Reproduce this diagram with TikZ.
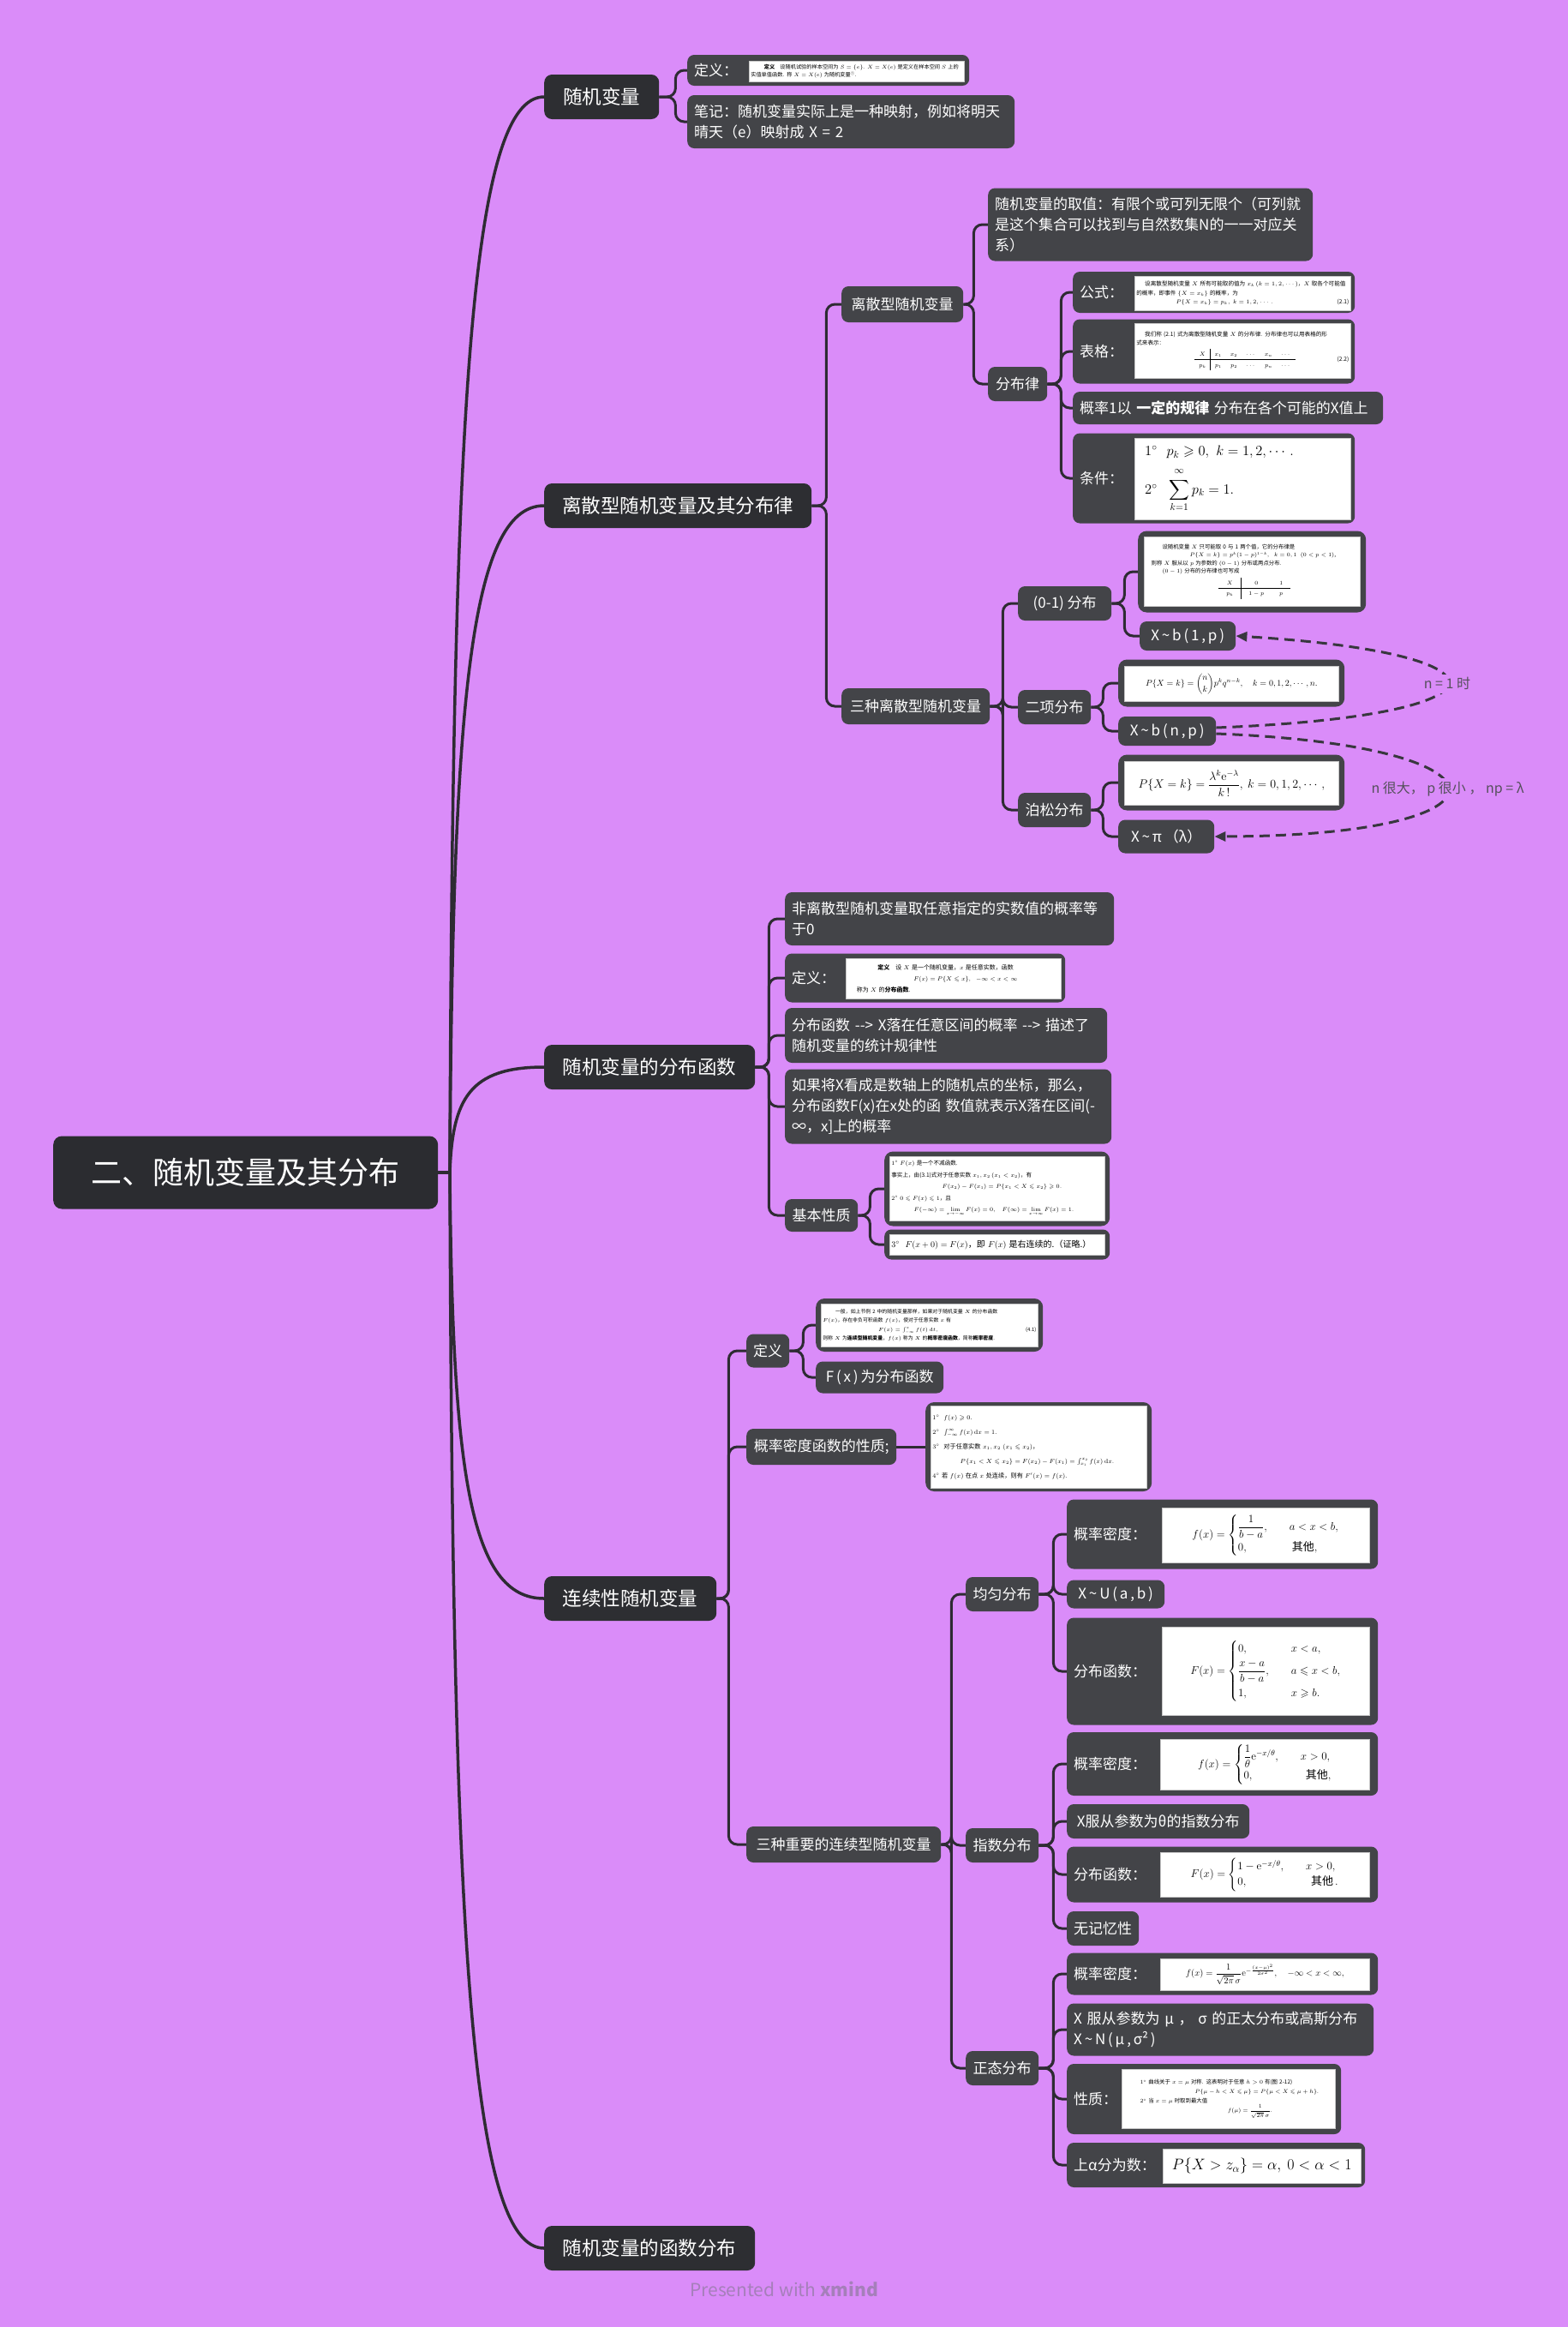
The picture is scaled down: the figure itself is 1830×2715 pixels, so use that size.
\RequirePackage{fix-cm}
\documentclass[tikz,border=0pt]{standalone}
\usepackage{amsmath,amssymb}
\usepackage[no-math]{fontspec}
\setmainfont{Noto Sans CJK SC}
\usetikzlibrary{arrows.meta}
\definecolor{bgc}{HTML}{DA8CF9}
\definecolor{rootc}{HTML}{2B2C30}
\definecolor{mainc}{HTML}{2D2E32}
\definecolor{subc}{HTML}{434448}
\definecolor{connc}{HTML}{2E2B33}
\definecolor{relc}{HTML}{38373E}
\definecolor{labc}{HTML}{55505C}
\definecolor{wmc}{HTML}{A57FBA}
\newcommand\myfs[2]{\fontsize{#1}{#2}\selectfont}
\newcommand\tl{\,\textasciitilde\,}
\pgfdeclarelayer{back}
\pgfdeclarelayer{bg}
\pgfsetlayers{back,bg,main}
\tikzset{
 base/.style={rounded corners=8pt, text=white, inner xsep=8pt, inner ysep=2pt, anchor=west, align=left},
 rootn/.style={base, fill=rootc, rounded corners=10pt, font=\myfs{36}{42}, align=center},
 mainn/.style={base, fill=mainc, rounded corners=9pt, font=\myfs{22.5}{28}, align=center},
 subn/.style={base, fill=subc, font=\myfs{17}{24}},
 imgn/.style={fill=white, draw=black!22, line width=0.6pt, inner sep=2pt, text=black, anchor=north west, align=left},
 conn/.style={draw=connc, line width=3pt, rounded corners=10pt},
 rootconn/.style={draw=connc, line width=3.5pt},
 rel/.style={draw=relc, line width=3pt, dash pattern=on 12pt off 7pt, -{Triangle[length=13pt,width=11pt]}},
 lbl/.style={font=\myfs{16}{18}, text=labc, fill=bgc, inner sep=4pt},
}
\newcommand\mmbranch[3]{\foreach \mmc in {#3}{\draw[conn] (#1.east) -- ([xshift=#2pt]#1.east) |- (\mmc.west);}}
\begin{document}
\begin{tikzpicture}[x=1pt,y=-1pt]
\begin{pgfonlayer}{back}
\fill[bgc] (0,0) rectangle (1830,2715);
\end{pgfonlayer}
\useasboundingbox (0,0) rectangle (1830,2715);

% root and main
\node[rootn, minimum width=449pt, minimum height=85pt] (root) at (62,1368) {二、随机变量及其分布};
\node[mainn, minimum width=134pt, minimum height=52pt] (M1) at (635,113) {随机变量};
\node[mainn, minimum width=312pt, minimum height=52pt] (M2) at (635,590) {离散型随机变量及其分布律};
\node[mainn, minimum width=246pt, minimum height=52pt] (M3) at (635,1245) {随机变量的分布函数};
\node[mainn, minimum width=201pt, minimum height=52pt] (M4) at (635,1865) {连续性随机变量};
\node[mainn, minimum width=246pt, minimum height=52pt] (M5) at (635,2623) {随机变量的函数分布};
\coordinate (hub) at (525,1368);

% ---- M1
\node[subn, text width=313pt, minimum height=36pt] (A1) at (802,82) {定义：};
\node[imgn, minimum height=24pt, text width=247pt, font=\myfs{6.2}{9}] (A1i) at (874,71) {\hspace*{2.5em}\textbf{定义}\quad 设随机试验的样本空间为 $S=\{e\}$. $X=X(e)$ 是定义在样本空间 $S$ 上的\\ 实值单值函数. 称 $X=X(e)$ 为随机变量$^{\text{①}}$.};
\node[subn, text width=366pt, minimum height=62pt] (A2) at (802,142) {笔记：随机变量实际上是一种映射，例如将明天\\晴天（e）映射成 X = 2};

% ---- M2
\node[subn, minimum width=142pt, minimum height=42pt] (B1) at (982,355) {离散型随机变量};
\node[subn, minimum width=173pt, minimum height=42pt] (B2) at (982,824) {三种离散型随机变量};
\node[subn, text width=363pt, minimum height=85pt] (B11) at (1153,262) {随机变量的取值：有限个或可列无限个（可列就\\是这个集合可以找到与自然数集N的一一对应关\\系）};
\node[subn, minimum width=69pt, minimum height=40pt] (B12) at (1153,448) {分布律};
\node[subn, text width=313pt, minimum height=48pt] (B121) at (1252,341) {公式：};
\node[imgn, minimum height=40pt, text width=248pt, font=\myfs{6.6}{10.5}] (B121i) at (1324,322) {\hspace*{1.5em}设离散型随机变量 $X$ 所有可能取的值为 $x_k\,(k=1,2,\cdots)$，$X$ 取各个可能值\\的概率，即事件 $\{X=x_k\}$ 的概率，为\\ \hspace*{7em}$P\{X=x_k\}=p_k,\ k=1,2,\cdots.$\hfill(2.1)};
\node[subn, text width=313pt, minimum height=75pt] (B122) at (1252,410) {表格：};
\node[imgn, minimum height=64pt, text width=248pt, font=\myfs{6.6}{10}] (B122i) at (1324,377) {\hspace*{1.5em}我们称 (2.1) 式为离散型随机变量 $X$ 的分布律. 分布律也可以用表格的形\\式来表示：\\[3pt] \hspace*{68pt}{\renewcommand\arraystretch{1.25}\setlength\tabcolsep{5pt}\begin{tabular}{c|ccccc}$X$&$x_1$&$x_2$&$\cdots$&$x_n$&$\cdots$\\\hline$p_k$&$p_1$&$p_2$&$\cdots$&$p_n$&$\cdots$\end{tabular}}\hfill(2.2)};
\node[subn, text width=346pt, minimum height=38pt] (B123) at (1252,476) {概率1以 \textbf{一定的规律} 分布在各个可能的X值上};
\node[subn, text width=313pt, minimum height=105pt] (B124) at (1252,558) {条件：};
\node[imgn, minimum height=95pt, text width=248pt, font=\myfs{16.5}{20}] (B124i) at (1324,511) {\hspace*{0.6em}$1^\circ\ \ p_k\geqslant0,\ k=1,2,\cdots.$\\[10pt] \hspace*{0.6em}$2^\circ\ \ \displaystyle\sum\limits_{k=1}^{\raisebox{3pt}{$\scriptstyle\infty$}}p_k=1.$};

\node[subn, minimum width=109pt, minimum height=40pt] (B21) at (1188,704) {(0-1) 分布};
\node[subn, minimum width=85pt, minimum height=40pt] (B22) at (1188,825) {二项分布};
\node[subn, minimum width=85pt, minimum height=40pt] (B23) at (1188,945) {泊松分布};
\node[subn, minimum width=266pt, minimum height=95pt, rounded corners=10pt] (B211) at (1328,667) {};
\node[imgn, minimum height=81pt, text width=248pt, font=\myfs{6.4}{9.5}] (B211i) at (1335,626) {\hspace*{3em}设随机变量 $X$ 只可能取 0 与 1 两个值，它的分布律是\\ \hspace*{8em}$P\{X=k\}=p^k(1-p)^{1-k},\ \ k=0,1\ \ (0<p<1)$,\\ \hspace*{1em}则称 $X$ 服从以 $p$ 为参数的 $(0-1)$ 分布或两点分布.\\ \hspace*{3em}$(0-1)$ 分布的分布律也可写成\\[2pt] \hspace*{85pt}{\renewcommand\arraystretch{1.3}\setlength\tabcolsep{9pt}\begin{tabular}{c|cc}$X$&$0$&$1$\\\hline$p_k$&$1-p$&$p$\end{tabular}}};
\node[subn, minimum width=112pt, minimum height=34pt] (B212) at (1330,742) {X\tl b\,(\,1\,,\,p\,)};
\node[subn, minimum width=264pt, minimum height=55pt, rounded corners=10pt] (B221) at (1305,797) {};
\node[imgn, minimum width=250pt, minimum height=41pt, align=center, font=\myfs{10}{12}] (B221i) at (1312,777) {$P\{X=k\}=\dbinom{n}{k}p^kq^{n-k},\quad k=0,1,2,\cdots,n.$};
\node[subn, minimum width=114pt, minimum height=34pt] (B222) at (1305,853) {X\tl b\,(\,n\,,\,p\,)};
\node[subn, minimum width=264pt, minimum height=65pt, rounded corners=10pt] (B231) at (1305,913) {};
\node[imgn, minimum width=250pt, minimum height=51pt, align=center, font=\myfs{14}{16}] (B231i) at (1312,888) {$P\{X=k\}=\dfrac{\lambda^k\mathrm{e}^{-\lambda}}{k\,!},\ k=0,1,2,\cdots,$};
\node[subn, minimum width=112pt, minimum height=39pt] (B232) at (1305,976) {X\tl π\,（λ）};

% ---- M3
\node[subn, text width=368pt, minimum height=62pt] (C1) at (916,1072) {非离散型随机变量取任意指定的实数值的概率等\\于0};
\node[subn, text width=311pt, minimum height=57pt] (C2) at (916,1141) {定义：};
\node[imgn, minimum height=47pt, text width=247pt, font=\myfs{7}{13}] (C2i) at (987,1118) {\hspace*{5em}\textbf{定义}\quad 设 $X$ 是一个随机变量，$x$ 是任意实数，函数\\ \hspace*{11em}$F(x)=P\{X\leqslant x\},\ \ -\infty<x<\infty$\\ \hspace*{1.5em}称为 $X$ 的\textbf{分布函数}.};
\node[subn, text width=360pt, minimum height=64pt] (C3) at (916,1208) {分布函数 -\kern0pt-\kern0pt> X落在任意区间的概率 -\kern0pt-\kern0pt> 描述了\\随机变量的统计规律性};
\node[subn, text width=365pt, minimum height=87pt] (C4) at (916,1291) {如果将X看成是数轴上的随机点的坐标，那么，\\分布函数F(x)在x处的函 数值就表示X落在区间(-\\∞，x]上的概率};
\node[subn, minimum width=85pt, minimum height=38pt] (C5) at (916,1418) {基本性质};
\node[subn, minimum width=263pt, minimum height=87pt, rounded corners=10pt] (C51) at (1032,1387) {};
\node[imgn, minimum height=75pt, text width=247pt, font=\myfs{6.6}{13.5}] (C51i) at (1038,1349) {$1^\circ$ $F(x)$ 是一个不减函数.\\ 事实上，由(3.1)式对于任意实数 $x_1,x_2\,(x_1<x_2)$，有\\ \hspace*{9em}$F(x_2)-F(x_1)=P\{x_1<X\leqslant x_2\}\geqslant0.$\\ $2^\circ$ $0\leqslant F(x)\leqslant1$，且\\ \hspace*{4em}$F(-\infty)=\lim\limits_{x\to-\infty}F(x)=0,\quad F(\infty)=\lim\limits_{x\to\infty}F(x)=1.$};
\node[subn, minimum width=263pt, minimum height=35pt, rounded corners=8pt] (C52) at (1032,1452) {};
\node[imgn, minimum height=24pt, text width=247pt, font=\myfs{10}{12}] (C52i) at (1038,1440) {$3^\circ$\ \ $F(x+0)=F(x)$，即 $F(x)$ 是右连续的.（证略.）};

% ---- M4
\node[subn, minimum width=48pt, minimum height=39pt] (D1) at (871,1576) {定义};
\node[subn, minimum width=265pt, minimum height=62pt, rounded corners=10pt] (D11) at (952,1546) {};
\node[imgn, minimum height=50pt, text width=249pt, font=\myfs{5.9}{10.5}] (D11i) at (958,1521) {\hspace*{2.5em}一般，如上节例 2 中的随机变量那样，如果对于随机变量 $X$ 的分布函数\\ $F(x)$，存在非负可积函数 $f(x)$，使对于任意实数 $x$ 有\\ \hspace*{11em}$F(x)=\int_{-\infty}^{x}f(t)\,\mathrm{d}t,$\hfill(4.1)\\ 则称 $X$ 为\textbf{连续型随机变量}，$f(x)$ 称为 $X$ 的\textbf{概率密度函数}，简称\textbf{概率密度}.};
\node[subn, minimum width=149pt, minimum height=37pt] (D12) at (952,1607) {F\,(\,x\,)\,为分布函数};
\node[subn, minimum width=175pt, minimum height=42pt] (D2) at (871,1688) {概率密度函数的性质;};
\node[subn, minimum width=264pt, minimum height=104pt, rounded corners=10pt] (D21) at (1080,1688) {};
\node[imgn, minimum height=96pt, text width=248pt, font=\myfs{7.2}{17}] (D21i) at (1086,1640) {$1^\circ$\ \ $f(x)\geqslant0$.\\ $2^\circ$\ \ $\int_{-\infty}^{\infty}f(x)\,\mathrm{d}x=1$.\\ $3^\circ$\ \ 对于任意实数 $x_1,x_2\ (x_1\leqslant x_2)$，\\ \hspace*{4.5em}$P\{x_1<X\leqslant x_2\}=F(x_2)-F(x_1)=\int_{x_1}^{x_2}f(x)\,\mathrm{d}x.$\\ $4^\circ$\ 若 $f(x)$ 在点 $x$ 处连续，则有 $F'(x)=f(x)$.};
\node[subn, minimum width=227pt, minimum height=42pt] (D3) at (871,2152) {三种重要的连续型随机变量};
\node[subn, minimum width=85pt, minimum height=40pt] (D31) at (1127,1860) {均匀分布};
\node[subn, minimum width=85pt, minimum height=40pt] (D32) at (1127,2153) {指数分布};
\node[subn, minimum width=85pt, minimum height=40pt] (D33) at (1127,2413) {正态分布};

\node[subn, text width=347pt, minimum height=81pt] (E1) at (1245,1790) {概率密度：};
\node[imgn, minimum width=242pt, minimum height=64pt, align=center, font=\myfs{13}{15}] (E1i) at (1356,1759) {$f(x)=\begin{cases}\dfrac{1}{b-a}, & \quad a<x<b,\\[6pt] 0, & \quad\ \text{其他},\end{cases}$};
\node[subn, minimum width=114pt, minimum height=33pt] (E2) at (1245,1860) {X\tl U\,(\,a\,,\,b\,)};
\node[subn, text width=347pt, minimum height=125pt] (E3) at (1245,1950) {分布函数：};
\node[imgn, minimum width=242pt, minimum height=103pt, align=center, font=\myfs{13}{15}] (E3i) at (1356,1898) {$F(x)=\begin{cases}0, & \quad x<a,\\[4pt] \dfrac{x-a}{b-a}, & \quad a\leqslant x<b,\\[8pt] 1, & \quad x\geqslant b.\end{cases}$};

\node[subn, text width=347pt, minimum height=74pt] (F1) at (1245,2058) {概率密度：};
\node[imgn, minimum width=244pt, minimum height=59pt, align=center, font=\myfs{13}{15}] (F1i) at (1354,2029) {$f(x)=\begin{cases}\dfrac{1}{\theta}\mathrm{e}^{-x/\theta}, & \quad x>0,\\[4pt] 0, & \quad\ \ \text{其他},\end{cases}$};
\node[subn, minimum width=213pt, minimum height=40pt] (F2) at (1245,2125) {X服从参数为θ的指数分布};
\node[subn, text width=347pt, minimum height=65pt] (F3) at (1245,2187) {分布函数：};
\node[imgn, minimum width=244pt, minimum height=52pt, align=center, font=\myfs{13}{15}] (F3i) at (1354,2161) {$F(x)=\begin{cases}1-\mathrm{e}^{-x/\theta}, & \quad x>0,\\ 0, & \quad\ \ \text{其他}\,.\end{cases}$};
\node[subn, minimum width=83pt, minimum height=40pt] (F4) at (1245,2250) {无记忆性};

\node[subn, text width=347pt, minimum height=49pt] (G1) at (1245,2303) {概率密度：};
\node[imgn, minimum width=244pt, minimum height=37pt, align=center, font=\myfs{10.5}{12}] (G1i) at (1354,2285) {$f(x)=\dfrac{1}{\sqrt{2\pi}\,\sigma}\mathrm{e}^{-\frac{(x-\mu)^2}{2\sigma^2}},\quad -\infty<x<\infty,$};
\node[subn, text width=342pt, minimum height=61pt] (G2) at (1245,2368) {X 服从参数为 μ ， σ 的正太分布或高斯分布\\X\tl N\,(\,μ\,,\,σ²\,)};
\node[subn, text width=304pt, minimum height=82pt] (G3) at (1245,2449) {性质：};
\node[imgn, minimum height=69pt, text width=245pt, font=\myfs{6.4}{11}] (G3i) at (1309,2414) {\hspace*{3em}$1^\circ$ 曲线关于 $x=\mu$ 对称. 这表明对于任意 $h>0$ 有(图 2-12)\\ \hspace*{13em}$P\{\mu-h<X\leqslant\mu\}=P\{\mu<X\leqslant\mu+h\}$.\\ \hspace*{3em}$2^\circ$ 当 $x=\mu$ 时取到最大值\\ \hspace*{19em}$f(\mu)=\dfrac{1}{\sqrt{2\pi}\,\sigma}$.};
\node[subn, text width=332pt, minimum height=52pt] (G4) at (1245,2526) {上α分为数：};
\node[imgn, minimum width=231pt, minimum height=40pt, align=center, font=\myfs{18}{20}] (G4i) at (1357,2507) {$P\{X>z_\alpha\}=\alpha,\ 0<\alpha<1$};

% watermark
\node[font=\myfs{21}{24}, text=wmc] (wm) at (915,2671) {Presented with \textbf{xmind}};

% ---- connectors
\begin{pgfonlayer}{bg}
\draw[rootconn] (root.east) -- (hub) .. controls (528,490) and (548,113) .. (M1.west);
\draw[rootconn] (root.east) -- (hub) .. controls (528,823) and (548,590) .. (M2.west);
\draw[rootconn] (root.east) -- (hub) .. controls (528,1282) and (548,1245) .. (M3.west);
\draw[rootconn] (root.east) -- (hub) .. controls (528,1716) and (548,1865) .. (M4.west);
\draw[rootconn] (root.east) -- (hub) .. controls (528,2246) and (548,2623) .. (M5.west);
\mmbranch{M1}{19}{A1,A2}
\mmbranch{M2}{17}{B1,B2}
\mmbranch{B1}{12}{B11,B12}
\mmbranch{B12}{16}{B121,B122,B123,B124}
\mmbranch{B2}{15}{B21,B22,B23}
\mmbranch{B21}{15}{B211,B212}
\mmbranch{B22}{14}{B221,B222}
\mmbranch{B23}{14}{B231,B232}
\mmbranch{M3}{16}{C1,C2,C3,C4,C5}
\mmbranch{C5}{14}{C51,C52}
\mmbranch{M4}{14}{D1,D2,D3}
\mmbranch{D1}{16}{D11,D12}
\draw[conn] (D2.east) -- (D21.west);
\mmbranch{D3}{12}{D31,D32,D33}
\mmbranch{D31}{17}{E1,E2,E3}
\mmbranch{D32}{17}{F1,F2,F3,F4}
\mmbranch{D33}{17}{G1,G2,G3,G4}
\end{pgfonlayer}

% ---- relationship arrows
\draw[rel] ([yshift=4pt]B222.east) .. controls (1775,835) and (1775,762) .. (B212.east) node[pos=0.5, lbl] (L1) {n = 1 时};
\draw[rel] ([yshift=-3pt]B222.east) .. controls (1780,870) and (1780,975) .. (B232.east) node[pos=0.5, lbl] (L2) {n 很大， p 很小 ， np = λ};
\end{tikzpicture}
\end{document}
